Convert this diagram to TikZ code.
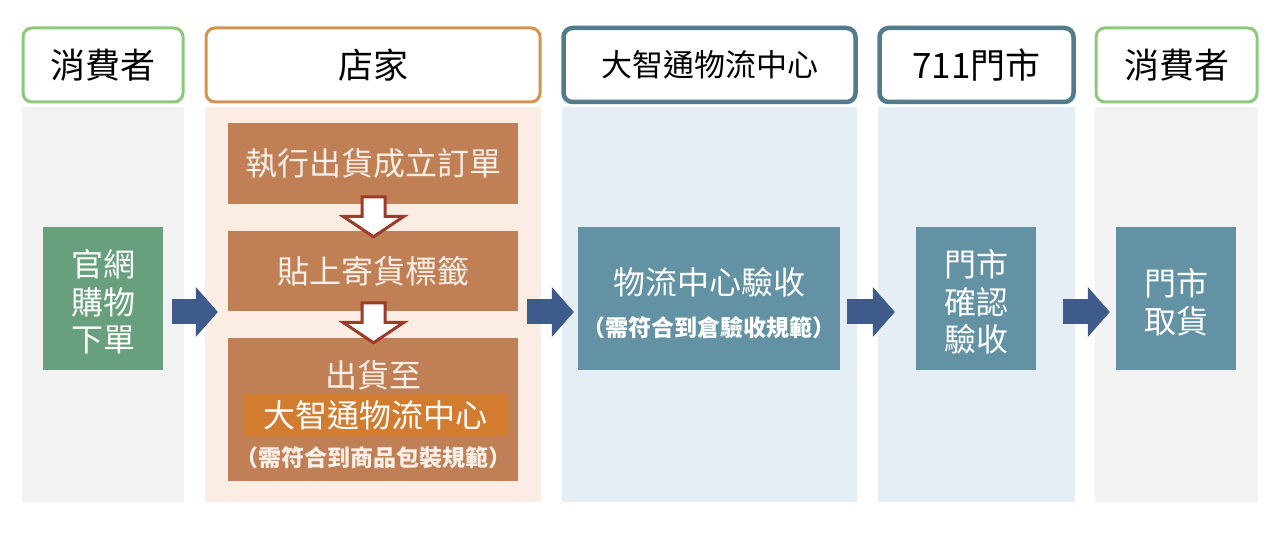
\documentclass[tikz,border=0pt]{standalone}
\usepackage{fontspec}
\newfontfamily\cjk{Noto Sans CJK TC}
\usetikzlibrary{arrows.meta,calc}
\definecolor{pgray}{HTML}{F2F2F2}
\definecolor{ppeach}{HTML}{FBEDE3}
\definecolor{pblue}{HTML}{E6EEF5}
\definecolor{bgreen}{HTML}{8CC97A}
\definecolor{borange}{HTML}{D4924F}
\definecolor{bteal}{HTML}{527B8B}
\definecolor{fgreen}{HTML}{68A07E}
\definecolor{fbrown}{HTML}{C17F56}
\definecolor{fhigh}{HTML}{D27C30}
\definecolor{fteal}{HTML}{6392A5}
\definecolor{ablue}{HTML}{3E5B8B}
\definecolor{ared}{HTML}{9C3A2B}
\definecolor{cream}{HTML}{FAF0E8}
\begin{document}
\begin{tikzpicture}[x=1pt,y=-1pt,
  panel/.style={draw=none,inner sep=0pt,minimum height=395pt},
  header/.style={draw,fill=white,rounded corners=9pt,line width=3pt,inner sep=0pt,minimum height=74pt,font=\cjk\fontsize{35}{40}\selectfont},
  stepbox/.style={inner sep=0pt,align=center,font=\cjk\fontsize{32}{37.5}\selectfont},
  subtext/.style={inner sep=0pt,font=\cjk\bfseries\fontsize{23}{26}\selectfont},
  barrow/.style={draw=ablue,line width=25pt,-{Triangle[length=22pt,width=50pt,line width=0pt]}},
  hollow/.style={draw=ared,fill=white,line width=3pt,line join=miter}
]
\useasboundingbox[fill=white] (0,0) rectangle (1282,534);
% panels
\node[panel,fill=pgray,minimum width=162pt] (p1) at (103,304.5) {};
\node[panel,fill=ppeach,minimum width=336pt] (p2) at (373,304.5) {};
\node[panel,fill=pblue,minimum width=295pt] (p3) at (709.5,304.5) {};
\node[panel,fill=pblue,minimum width=197pt] (p4) at (976.5,304.5) {};
\node[panel,fill=pgray,minimum width=163pt] (p5) at (1176.5,304.5) {};
% headers
\node[header,draw=bgreen,minimum width=160pt] (h1) at (103,65) {消費者};
\node[header,draw=borange,minimum width=334pt] (h2) at (373,65) {店家};
\node[header,draw=bteal,line width=4.5pt,minimum width=292pt,font=\cjk\fontsize{31}{36}\selectfont] (h3) at (709.5,65) {大智通物流中心};
\node[header,draw=bteal,line width=4.5pt,minimum width=194pt] (h4) at (976.5,65) {711門市};
\node[header,draw=bgreen,minimum width=161pt] (h5) at (1176.5,65) {消費者};
% boxes
\node[stepbox,fill=fgreen,minimum width=120pt,minimum height=143pt] (g) at (103,298.5) {};
\node[stepbox,text=white] (gt) at (103,302) {官網\\購物\\下單};
\node[stepbox,fill=fbrown,text=cream,minimum width=290pt,minimum height=81pt] (b1) at (373,163.5) {執行出貨成立訂單};
\node[stepbox,fill=fbrown,text=cream,minimum width=290pt,minimum height=80pt] (b2) at (373,271) {貼上寄貨標籤};
\node[stepbox,fill=fbrown,minimum width=290pt,minimum height=143pt] (b3) at (373,409.5) {};
\node[stepbox,text=cream] (b3t) at (373,375) {出貨至};
\node[stepbox,fill=fhigh,text=white,minimum width=265pt,minimum height=42pt] (hl) at (375.5,415) {大智通物流中心};
\node[subtext,text=cream] (b3s) at (373,458) {（需符合到商品包裝規範）};
\node[stepbox,fill=fteal,minimum width=262pt,minimum height=143pt] (dc) at (709,298.5) {};
\node[stepbox,text=white] (dct) at (709,282) {物流中心驗收};
\node[subtext,text=white] (dcs) at (709,328) {（需符合到倉驗收規範）};
\node[stepbox,fill=fteal,minimum width=120pt,minimum height=143pt] (st) at (976,298.5) {};
\node[stepbox,text=white] (stt) at (976,302) {門市\\確認\\驗收};
\node[stepbox,fill=fteal,minimum width=120pt,minimum height=143pt] (pk) at (1176,298.5) {};
\node[stepbox,text=white] (pkt) at (1176,302) {門市\\取貨};
% horizontal block arrows
\coordinate (ay) at (0,312);
\draw[barrow,shorten <=9pt,shorten >=10pt] (g.east |- ay) -- (b3.west |- ay);
\draw[barrow,shorten <=9pt,shorten >=4pt] (b3.east |- ay) -- (dc.west |- ay);
\draw[barrow,shorten <=7pt,shorten >=21pt] (dc.east |- ay) -- (st.west |- ay);
\draw[barrow,shorten <=27pt,shorten >=6pt] (st.east |- ay) -- (pk.west |- ay);
% hollow down arrows
\coordinate (t1) at ($(b2.north)+(0.5,6)$);
\coordinate (t2) at ($(b3.north)+(0.5,5)$);
\foreach \t in {t1,t2}{
  \draw[hollow] (\t) -- ++(-30.5,-20.5) -- ++(19,0) -- ++(0,-19.5) -- ++(23,0) -- ++(0,19.5) -- ++(19,0) -- cycle;
}
\end{tikzpicture}
\end{document}
